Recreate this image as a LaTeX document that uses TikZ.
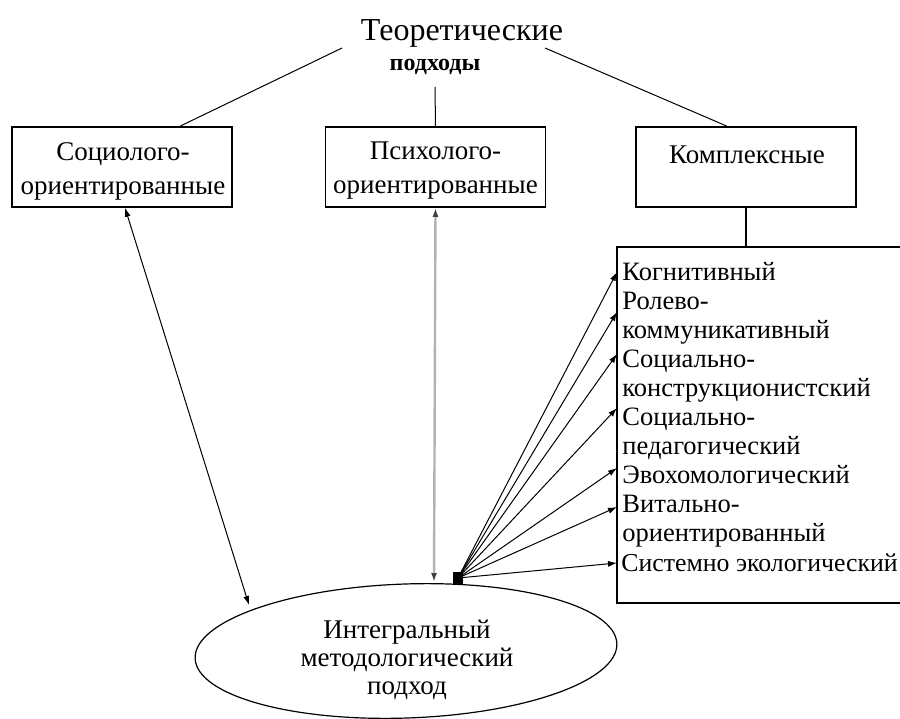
\documentclass[tikz,border=0pt]{standalone}
\usepackage{fontspec}
\setmainfont{Liberation Serif}
\usetikzlibrary{arrows.meta,shapes.geometric}
\begin{document}
\begin{tikzpicture}[x=0.5pt,y=-0.5pt,
  box/.style={draw, line width=0.8pt, minimum width=110pt, minimum height=40pt, inner sep=0pt},
  boxtxt/.style={inner sep=0pt, font=\fontsize{13.5}{17}\selectfont, align=center},
  lst/.style={font=\fontsize{13.25}{14.5}\selectfont, anchor=base west, inner sep=0pt},
  conn/.style={line width=0.5pt},
  tipend/.style={-{Latex[length=4.5pt,width=3pt]}},
  bitip/.style={{Latex[length=4.5pt,width=3pt]}-{Latex[length=4.5pt,width=3pt]}}
]
\useasboundingbox (0,0) rectangle (900,718);

% title
\node (title) [anchor=base, inner sep=0pt, font=\fontsize{16}{18}\selectfont] at (462,40) {Теоретические};
\node (podh) [anchor=base, inner sep=0pt, font=\fontsize{12}{14}\selectfont\bfseries] at (435,70) {подходы};
\coordinate (tl) at (342,48);
\coordinate (tr) at (545,48);
\coordinate (tm) at (435,87);

% top boxes
\node (soc) [box] at (122,167) {};
\node (psy) [box] at (435.5,167) {};
\node (kom) [box] at (746,167) {};
\node (soct) [boxtxt] at (123,171) {Социолого-\\ориентированные};
\node (psyt) [boxtxt] at (435.5,171) {Психолого-\\ориентированные};
\node (komt) [boxtxt] at (747,155) {Комплексные};

\draw[conn] (tl) -- ([xshift=29pt]soc.north);
\draw[conn] (tm) -- (psy.north);
\draw[conn] (tr) -- ([xshift=-9.5pt]kom.north);

% big list box
\coordinate (bb) at (746,247);
\draw[line width=0.8pt] (617,247) rectangle (920,603);
\draw[line width=0.8pt] (kom.south) -- (bb);

\foreach \t [count=\i from 0] in {Когнитивный,Ролево-,коммуникативный,Социально-,конструкционистский,Социально-,педагогический,Эвохомологический,Витально-,ориентированный}
  \node (l\i) [lst] at (622,{280+29.1*\i}) {\t};
\node (l10) [lst, font=\fontsize{12.9}{14.5}\selectfont] at (621,571) {Системно экологический};

% ellipse
\node (ell) [draw, ellipse, line width=0.6pt, minimum width=211pt, minimum height=67pt, rotate=2] at (406,651) {};
\node (elltext) [font=\fontsize{13.5}{14}\selectfont, align=center] at (407,660) {Интегральный\\методологический\\подход};

% square hub
\node (sq) [fill, minimum width=5pt, minimum height=6pt, inner sep=0pt] at (458,578) {};

% arrows
\coordinate (ea) at (249,605);
\coordinate (eg) at (434,582);
\draw[conn, bitip] ([xshift=1.5pt]soc.south) -- (ea);
\draw[line width=1.2pt, gray!60, {Latex[length=4.5pt,width=3pt,black!75]}-{Latex[length=4.5pt,width=3pt,black!75]}] (psy.south) -- (eg);

\foreach \y [count=\k] in {272,312,354,408,468,507,563}
  \coordinate (k\k) at (617,\y);
\foreach \k in {1,...,7}
  \draw[conn, tipend] (sq.center) -- (k\k);
\end{tikzpicture}
\end{document}
